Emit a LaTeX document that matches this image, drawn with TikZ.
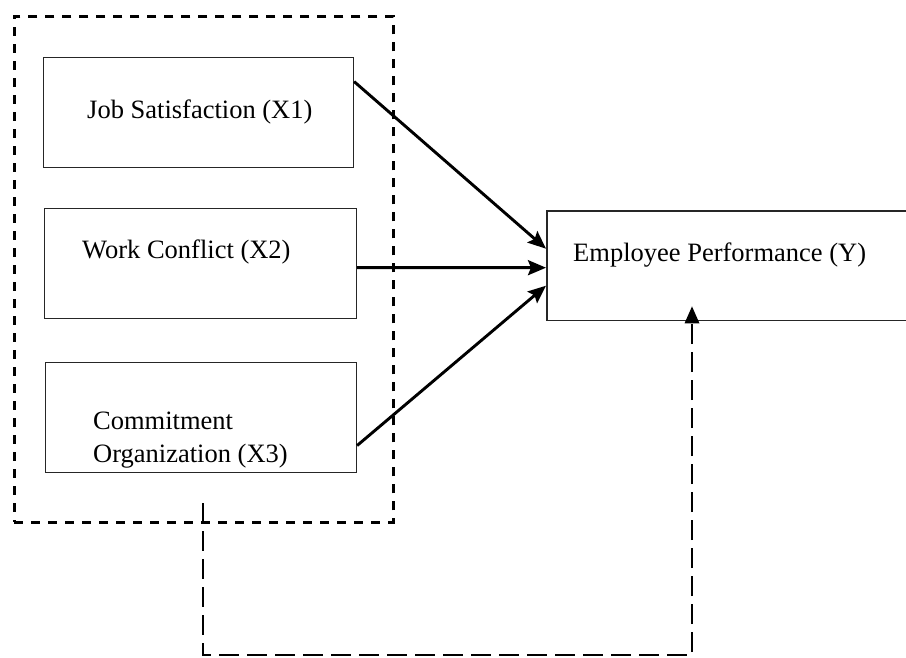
\documentclass[tikz,border=0pt]{standalone}
\usepackage{fontspec}
\setmainfont{Liberation Serif}
\usetikzlibrary{arrows.meta,calc}
\begin{document}
\begin{tikzpicture}[x=1pt,y=-1pt,
  box/.style={draw=black!85,line width=1.1pt,minimum width=#1,minimum height=110pt,inner sep=0pt,anchor=north west},
  lbl/.style={anchor=base west,inner sep=0pt,font=\fontsize{26.5}{32}\selectfont},
  arr/.style={line width=2.9pt,-{Stealth[length=18pt,width=15pt,inset=3pt]}},
  outerdash/.style={line width=2.7pt,dash pattern=on 9pt off 8pt},
  linkdash/.style={line width=2.7pt,dash pattern=on 20pt off 8pt}]
\useasboundingbox (0,0) rectangle (906,657);
% outer dashed frame
\node[draw,outerdash,minimum width=379pt,minimum height=506pt,inner sep=0pt,anchor=north west] (frame) at (13,15) {};
% inner boxes
\node[box=310pt] (b1) at (43,57) {};
\node[box=312pt] (b2) at (44,208) {};
\node[box=311pt] (b3) at (45,362) {};
\node[minimum width=359pt,minimum height=109pt,inner sep=0pt,anchor=north west] (ep) at (547,211) {};
\draw[black!85,line width=1.1pt] (ep.north east) -- (ep.north west) -- (ep.south west) -- (ep.south east);
% labels
\node[lbl] (t1) at (87,118) {Job Satisfaction (X1)};
\node[lbl] (t2) at (82,258) {Work Conflict (X2)};
\node[lbl] (t3a) at (93,429) {Commitment};
\node[lbl] (t3b) at (93,462) {Organization (X3)};
\node[lbl] (t4) at (573,261) {Employee Performance (Y)};
% arrows
\draw[arr] ([yshift=31pt]b1.east) -- ([xshift=-1pt,yshift=17pt]ep.west);
\draw[arr] ([yshift=-4pt]b2.east) -- ([xshift=-1pt,yshift=-2pt]ep.west);
\draw[arr] ([yshift=-28pt]b3.east) -- ([xshift=-1pt,yshift=-20pt]ep.west);
% dashed link
\coordinate (s) at (203,503);
\coordinate (c1) at (203,655);
\coordinate (c2) at (692,655);
\coordinate (tip) at ([xshift=145pt,yshift=14pt]ep.south west);
\draw[linkdash] (s) -- (c1) -- (c2) -- ([yshift=-2pt]c2 |- ep.south);
\fill (tip) -- ++(-7.5pt,-17pt) -- ++(15pt,0) -- cycle;
\end{tikzpicture}
\end{document}
